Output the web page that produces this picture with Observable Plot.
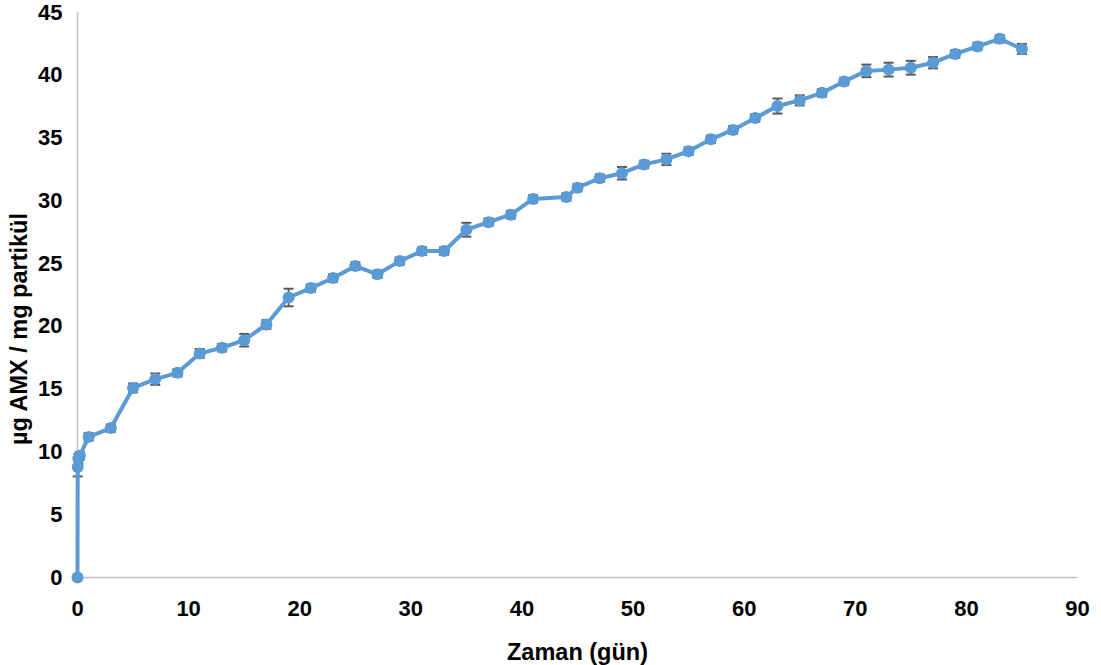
<!DOCTYPE html>
<html>
<head>
<meta charset="utf-8">
<script src="https://cdn.jsdelivr.net/npm/d3@7"></script>
<script src="https://cdn.jsdelivr.net/npm/@observablehq/plot@0.6"></script>
<style>
  html, body { margin: 0; padding: 0; background: #fff; }
  #chart svg { font-family: "Liberation Sans", Arial, sans-serif; font-weight: bold; }
</style>
</head>
<body>
<div id="chart"></div>
<script>
const days = [0, 0.02, 0.08, 0.21, 1, 3, 5, 7, 9, 11, 13, 15, 17, 19, 21, 23, 25, 27, 29, 31, 33, 35, 37, 39, 41, 44, 45, 47, 49, 51, 53, 55, 57, 59, 61, 63, 65, 67, 69, 71, 73, 75, 77, 79, 81, 83, 85];
const amx = [0, 8.8, 9.45, 9.7, 11.2, 11.9, 15.1, 15.8, 16.3, 17.85, 18.3, 18.9, 20.15, 22.3, 23.05, 23.85, 24.8, 24.15, 25.2, 26.0, 26.0, 27.7, 28.3, 28.9, 30.15, 30.3, 31.05, 31.8, 32.2, 32.9, 33.3, 33.95, 34.9, 35.65, 36.6, 37.55, 38.0, 38.6, 39.5, 40.35, 40.45, 40.6, 41.0, 41.7, 42.3, 42.9, 42.1];
const sd = [0, 0.75, 0.4, 0.3, 0.3, 0.3, 0.35, 0.45, 0.3, 0.35, 0.3, 0.5, 0.35, 0.7, 0.3, 0.3, 0.3, 0.3, 0.3, 0.3, 0.3, 0.55, 0.3, 0.3, 0.3, 0.3, 0.3, 0.3, 0.5, 0.3, 0.45, 0.3, 0.3, 0.3, 0.3, 0.6, 0.4, 0.3, 0.3, 0.5, 0.55, 0.55, 0.45, 0.3, 0.3, 0.3, 0.4];
const xTicks = [0, 10, 20, 30, 40, 50, 60, 70, 80, 90];
const yTicks = [0, 5, 10, 15, 20, 25, 30, 35, 40, 45];
const capHalf = 0.45;

const data = days.map((t, i) => ({t, v: amx[i], e: sd[i]}));
const errData = data.filter(d => d.e > 0);

const chart = Plot.plot({
  width: 1101,
  height: 665,
  marginLeft: 77,
  marginRight: 24,
  marginTop: 12,
  marginBottom: 88,
  x: {domain: [0, 90]},
  y: {domain: [0, 45]},
  style: {fontFamily: '"Liberation Sans", Arial, sans-serif', fontWeight: "bold", color: "#000", background: "#fff"},
  marks: [
    Plot.ruleX([0], {y1: 0, y2: 45, stroke: "#bfbfbf", strokeWidth: 1.5, insetTop: -9}),
    Plot.ruleY([0], {x1: 0, x2: 90, stroke: "#bfbfbf", strokeWidth: 1.5}),
    Plot.axisX({ticks: xTicks, tickSize: 0, tickPadding: 23, fontSize: 22, label: "Zaman (gün)", labelAnchor: "center", labelOffset: 82, labelArrow: "none"}),
    Plot.axisY({ticks: yTicks, tickSize: 0, tickPadding: 15, fontSize: 22, label: "µg AMX / mg partikül", labelAnchor: "center", labelOffset: 67, labelArrow: "none"}),
    Plot.ruleX(errData, {x: "t", y1: d => d.v - d.e, y2: d => d.v + d.e, stroke: "#595959", strokeWidth: 1.8}),
    Plot.link(errData, {x1: d => d.t - capHalf, x2: d => d.t + capHalf, y1: d => d.v - d.e, y2: d => d.v - d.e, stroke: "#595959", strokeWidth: 2}),
    Plot.link(errData, {x1: d => d.t - capHalf, x2: d => d.t + capHalf, y1: d => d.v + d.e, y2: d => d.v + d.e, stroke: "#595959", strokeWidth: 2}),
    Plot.line(data, {x: "t", y: "v", stroke: "#5b9bd5", strokeWidth: 4}),
    Plot.dot(data, {x: "t", y: "v", r: 6, fill: "#5b9bd5", stroke: "none"})
  ]
});

const svg = d3.select(chart);
svg.selectAll("g[aria-label='x-axis tick label'], g[aria-label='y-axis tick label']").attr("font-size", 22).style("font-size", "22px");
svg.selectAll("g[aria-label='x-axis tick label'] text, g[aria-label='y-axis tick label'] text").style("font-size", "22px");
svg.selectAll("g[aria-label='x-axis label'] text, g[aria-label='y-axis label'] text").style("font-size", "23.5px");
svg.selectAll("g[aria-label='y-axis label']").attr("transform", function() {
  const t = d3.select(this).attr("transform") || "";
  return t + " translate(0,34)";
});
document.getElementById("chart").appendChild(chart);
</script>
</body>
</html>
